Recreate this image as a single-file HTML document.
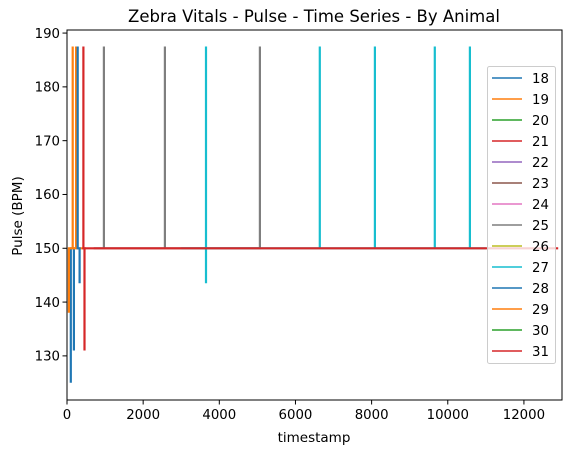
<!DOCTYPE html>
<html><head><meta charset="utf-8"><style>
body{margin:0;background:#fff;font-family:"Liberation Sans","DejaVu Sans",sans-serif}
svg text{font-family:"DejaVu Sans","Liberation Sans",sans-serif}
</style></head><body>
<svg id="chart" width="571" height="453" viewBox="0 0 571 453" xmlns="http://www.w3.org/2000/svg">
<rect width="571" height="453" fill="#fff"/>
<text x="314" y="22" text-anchor="middle" font-size="16.5">Zebra Vitals - Pulse - Time Series - By Animal</text>
<g id="plot"></g>
<g id="axes"></g>
<text x="314" y="442" text-anchor="middle" font-size="13.5">timestamp</text>
<text transform="translate(22,216) rotate(-90)" text-anchor="middle" font-size="13.5">Pulse (BPM)</text>
<g id="legend"></g>
</svg>
<script>
const animals=["18","19","20","21","22","23","24","25","26","27","28","29","30","31"];
const colors=["#1f77b4","#ff7f0e","#2ca02c","#d62728","#9467bd","#8c564b","#e377c2","#7f7f7f","#bcbd22","#17becf","#1f77b4","#ff7f0e","#2ca02c","#d62728"];
const timesByAnimal=[
 [100,100,100,180,180,180],
 [50,50,50,150,150,150,240,240,240,500],
 [],
 [],
 [],[],[],
 [700,970,970,970,2570,2570,2570,5065,5065,5065],
 [],
 [3000,3650,3650,3650,3650,6640,6640,6640,8085,8085,8085,9660,9660,9660,10580,10580,10580,11000],
 [280,280,280,330,330,330,350],
 [],[],
 [400,430,430,430,460,460,460,12900]
];
const valuesByAnimal=[
 [150,125,150,150,131,150],
 [150,138,150,150,187.5,150,150,187.5,150,150],
 [],[],[],[],[],
 [150,150,187.5,150,150,187.5,150,150,187.5,150],
 [],
 [150,150,187.5,143.5,150,150,187.5,150,150,187.5,150,150,187.5,150,150,187.5,150,150],
 [150,187.5,150,150,143.5,150,150],
 [],[],
 [150,150,187.5,150,150,131,150,150]
];
const xTicks=[0,2000,4000,6000,8000,10000,12000];
const yTicks=[130,140,150,160,170,180,190];
const X0=67,X1=562,Y0=400,Y1=30,xmin=0,xmax=13000,ymin=121.8,ymax=190.57;
const xs=v=>X0+(v-xmin)/(xmax-xmin)*(X1-X0);
const ys=v=>Y0-(v-ymin)/(ymax-ymin)*(Y0-Y1);
const NS="http://www.w3.org/2000/svg";
function mk(t,a,p){const e=document.createElementNS(NS,t);for(const k in a)e.setAttribute(k,a[k]);p.appendChild(e);return e;}
const plot=document.getElementById('plot'),axes=document.getElementById('axes'),leg=document.getElementById('legend');
animals.forEach((a,i)=>{
 const t=timesByAnimal[i],v=valuesByAnimal[i];if(!t.length)return;
 const pl=mk('polyline',{points:t.map((tt,j)=>xs(tt).toFixed(1)+','+ys(v[j]).toFixed(1)).join(' '),fill:'none',stroke:colors[i],'stroke-width':2.2},plot);
 
 
});
const fr=mk('rect',{x:X0,y:Y1,width:X1-X0,height:Y0-Y1,fill:'none',stroke:'#000','stroke-width':1},axes);


xTicks.forEach(v=>{
 mk('line',{x1:xs(v),x2:xs(v),y1:Y0,y2:Y0+4.5,stroke:'#000','stroke-width':1},axes);
 const t=mk('text',{x:xs(v),y:Y0+19,'text-anchor':'middle','font-size':13.3},axes);t.textContent=v;
 
 
});
yTicks.forEach(v=>{
 mk('line',{x1:X0-4.5,x2:X0,y1:ys(v),y2:ys(v),stroke:'#000','stroke-width':1},axes);
 const t=mk('text',{x:X0-7,y:ys(v)+4.7,'text-anchor':'end','font-size':13.3},axes);t.textContent=v;
 
 
});
const lb=mk('rect',{x:487.5,y:66.5,width:68,height:297,rx:2,fill:'#fff','fill-opacity':0.8,stroke:'#ccc'},leg);


animals.forEach((a,i)=>{
 const y=78+i*21;
 const g=mk('g',{},leg);
 
 
 mk('line',{x1:492,x2:522,y1:y,y2:y,stroke:colors[i],'stroke-width':1.5},g);
 const t=mk('text',{x:532,y:y+5,'font-size':13.3},g);t.textContent=a;
});
</script>
</body></html>
